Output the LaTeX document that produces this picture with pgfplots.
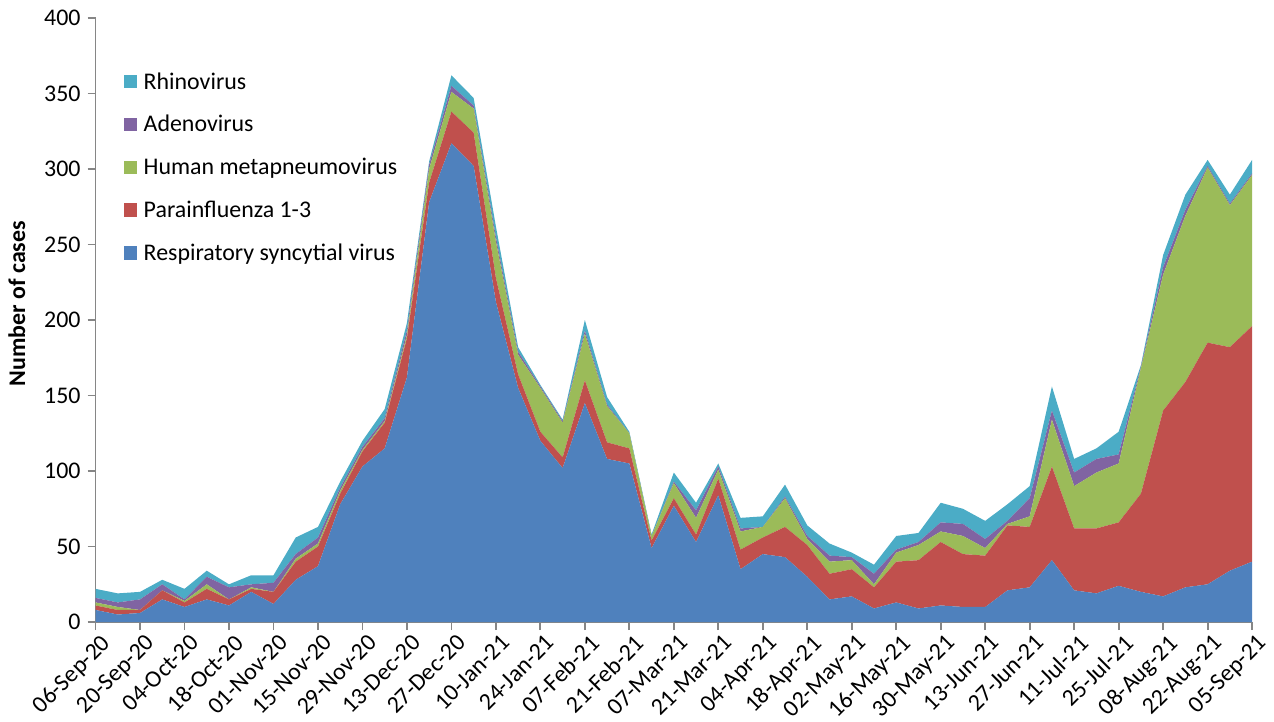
\documentclass[border=0pt]{standalone}
\usepackage{pgfplots}
\pgfplotsset{compat=1.18}
\usepackage{pgfplotstable}
\usepackage{fontspec}
\setmainfont{Carlito}
\definecolor{cRSV}{HTML}{4F81BD}
\definecolor{cPara}{HTML}{C0504D}
\definecolor{cHMPV}{HTML}{9BBB59}
\definecolor{cAdeno}{HTML}{8064A2}
\definecolor{cRhino}{HTML}{4BACC6}
\definecolor{axgray}{HTML}{868686}
\pgfplotstableread{
x rsv para hmpv adeno rhino
0 8 3 2 3 6
1 5 3 2 3 6
2 6 2 0 7 5
3 15 6 0 4 3
4 10 3 1 1 7
5 15 7 3 5 4
6 11 4 0 8 2
7 20 2 1 2 6
8 12 8 0 6 5
9 28 12 2 3 11
10 37 13 2 4 7
11 78 7 2 2 4
12 103 10 1 2 4
13 115 17 1 2 6
14 162 26 2 3 5
15 278 13 9 3 2
16 317 21 13 4 7
17 302 22 16 2 5
18 212 16 24 3 7
19 155 9 13 2 3
20 120 6 29 1 1
21 102 7 23 1 1
22 145 15 31 2 7
23 108 11 24 1 5
24 105 10 10 0 1
25 49 5 3 0 1
26 77 5 10 1 6
27 53 5 11 5 5
28 84 11 6 2 2
29 35 13 12 2 7
30 45 11 7 0 7
31 43 20 19 1 8
32 30 21 4 2 7
33 15 17 8 4 8
34 17 18 6 2 3
35 9 14 2 7 6
36 13 27 6 2 9
37 9 32 10 2 6
38 11 42 7 6 13
39 10 35 12 8 10
40 10 34 5 6 12
41 21 43 1 2 11
42 23 40 7 12 8
43 41 62 31 6 16
44 21 41 28 9 9
45 19 43 37 9 7
46 24 42 39 6 15
47 20 65 83 1 1
48 17 123 90 5 8
49 23 136 110 4 10
50 25 160 116 1 4
51 34 148 94 1 6
52 40 156 100 1 9
}\data
\begin{document}
\begin{tikzpicture}
\useasboundingbox (-48pt,-50pt) rectangle (592pt,312.5pt);
\begin{axis}[
  at={(0,0)}, anchor=south west,
  scale only axis, width=581pt, height=303.5pt,
  xmin=0, xmax=52, ymin=0, ymax=400,
  axis x line*=bottom, axis y line*=left,
  axis line style={draw=axgray, line width=0.9pt},
  every tick/.style={draw=axgray, line width=0.9pt},
  major tick length=4pt, tick align=outside,
  xtick={0,2,...,52},
  xticklabels={06-Sep-20,20-Sep-20,04-Oct-20,18-Oct-20,01-Nov-20,15-Nov-20,29-Nov-20,13-Dec-20,27-Dec-20,10-Jan-21,24-Jan-21,07-Feb-21,21-Feb-21,07-Mar-21,21-Mar-21,04-Apr-21,18-Apr-21,02-May-21,16-May-21,30-May-21,13-Jun-21,27-Jun-21,11-Jul-21,25-Jul-21,08-Aug-21,22-Aug-21,05-Sep-21},
  ytick={0,50,...,400},
  /pgf/number format/assume math mode=true,
  tick label style={font=\fontsize{12}{14}\selectfont},
  xticklabel style={rotate=45, anchor=north east, inner sep=1pt, xshift=1.5pt, yshift=-1.5pt},
  ylabel={\textbf{Number of cases}},
  ylabel style={font=\fontsize{12}{14}\selectfont, at={(axis description cs:-0.068,0.527)}, anchor=center},
  stack plots=y,
  legend image code/.code={\fill[#1] (0pt,-2.65pt) rectangle (6.7pt,4.05pt);},
  reverse legend,
  legend cell align=left,
  legend style={draw=none, fill=none, at={(axis description cs:0.0241,0.911)}, anchor=north west,
    font=\fontsize{12}{14}\selectfont, inner sep=0pt, row sep=10.5pt, column sep=3.3pt,
    nodes={text height=8.5pt, text depth=2.5pt, inner sep=0pt}},
]
\addplot[fill=cRSV, draw=none] table[x=x,y=rsv]{\data} \closedcycle;
\addlegendentry{Respiratory syncytial virus}
\addplot[fill=cPara, draw=none] table[x=x,y=para]{\data} \closedcycle;
\addlegendentry{Parainfluenza 1-3}
\addplot[fill=cHMPV, draw=none] table[x=x,y=hmpv]{\data} \closedcycle;
\addlegendentry{Human metapneumovirus}
\addplot[fill=cAdeno, draw=none] table[x=x,y=adeno]{\data} \closedcycle;
\addlegendentry{Adenovirus}
\addplot[fill=cRhino, draw=none] table[x=x,y=rhino]{\data} \closedcycle;
\addlegendentry{Rhinovirus}
\end{axis}
\end{tikzpicture}
\end{document}
